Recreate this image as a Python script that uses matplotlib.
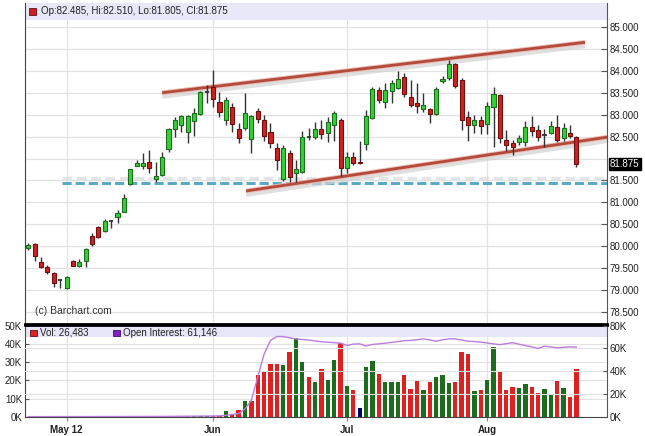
import matplotlib
matplotlib.use('Agg')
import matplotlib.pyplot as plt
import matplotlib.transforms as mtransforms
from matplotlib.patches import Rectangle
import numpy as np
import pandas as pd

plt.rcParams['font.family'] = ['Liberation Sans', 'DejaVu Sans']

# ---------------- data ----------------
start_date = '2012-04-23'
opens = [79.95, 80.05, 79.63, 79.52, 79.40, 79.24, 79.04, 79.67, 79.55, 79.66,
         80.24, 80.44, 80.35, 80.58, 80.66, 80.79, 81.42, 81.83, 81.83, 81.93,
         81.53, 81.62, 82.21, 82.67, 82.76, 82.61, 82.86, 83.02, 83.52, 83.62,
         83.30, 82.89, 83.18, 82.67, 82.69, 82.44, 83.09, 82.89, 82.61, 82.23,
         81.53, 82.12, 81.66, 81.70, 82.48, 82.50, 82.67, 82.59, 82.76, 82.89,
         81.78, 82.04, 81.91, 82.33, 82.92, 83.56, 83.30, 83.55, 83.60, 83.85,
         83.41, 83.27, 83.12, 83.12, 83.02, 83.76, 83.83, 84.16, 83.78, 82.94,
         82.76, 82.88, 82.79, 83.18, 83.45, 82.42, 82.35, 82.38, 82.38, 82.71,
         82.65, 82.54, 82.59, 82.71, 82.46, 82.59, 82.485]
highs = [80.08, 80.07, 79.75, 79.58, 79.42, 79.25, 79.32, 79.68, 79.70, 79.95,
         80.30, 80.47, 80.62, 80.59, 80.82, 81.20, 81.77, 81.97, 82.12, 82.20,
         81.93, 82.16, 82.70, 82.95, 83.00, 83.00, 83.15, 83.55, 83.68, 84.02,
         83.52, 83.41, 83.27, 82.81, 83.49, 83.00, 83.15, 83.00, 82.80, 82.35,
         82.30, 82.19, 81.97, 82.63, 82.69, 82.84, 82.89, 82.95, 83.08, 82.92,
         82.16, 82.16, 82.41, 83.10, 83.62, 83.62, 83.72, 83.79, 84.00, 83.94,
         83.78, 83.72, 83.49, 83.15, 83.63, 83.88, 84.25, 84.18, 83.83, 83.09,
         83.00, 82.97, 83.28, 83.64, 83.47, 82.65, 82.42, 82.54, 82.86, 82.97,
         82.77, 82.67, 82.86, 82.99, 82.80, 82.76, 82.510]
lows = [79.92, 79.67, 79.50, 79.36, 79.06, 79.05, 79.03, 79.55, 79.53, 79.53,
        80.00, 80.18, 80.33, 80.41, 80.52, 80.78, 81.40, 81.82, 81.76, 81.66,
        81.47, 81.60, 82.16, 82.50, 82.60, 82.36, 82.51, 83.00, 83.26, 83.18,
        82.95, 82.76, 82.61, 82.36, 82.65, 82.12, 82.80, 82.39, 82.23, 81.74,
        81.48, 81.47, 81.47, 81.68, 82.42, 82.44, 82.44, 82.38, 82.41, 81.60,
        81.66, 81.86, 81.88, 82.19, 82.90, 83.27, 83.15, 83.26, 83.58, 83.40,
        83.17, 83.03, 83.07, 82.82, 83.00, 83.72, 83.80, 83.60, 82.65, 82.41,
        82.58, 82.56, 82.56, 82.26, 82.36, 82.18, 82.08, 82.31, 82.29, 82.51,
        82.40, 82.26, 82.56, 82.38, 82.40, 82.46, 81.805]
closes = [80.02, 79.78, 79.53, 79.41, 79.15, 79.24, 79.30, 79.56, 79.63, 79.93,
          80.06, 80.20, 80.58, 80.58, 80.76, 81.09, 81.75, 81.89, 81.89, 81.78,
          81.60, 82.04, 82.67, 82.89, 82.98, 82.97, 83.03, 83.51, 83.52, 83.35,
          83.07, 83.33, 82.79, 82.46, 83.03, 82.98, 82.91, 82.51, 82.35, 81.97,
          82.23, 81.59, 81.75, 82.50, 82.48, 82.67, 82.56, 82.84, 83.03, 81.78,
          82.03, 81.89, 81.89, 82.97, 83.58, 83.33, 83.56, 83.73, 83.81, 83.47,
          83.22, 83.19, 83.21, 83.02, 83.58, 83.81, 84.16, 83.65, 82.87, 82.76,
          82.88, 82.74, 83.20, 83.47, 82.46, 82.31, 82.27, 82.46, 82.73, 82.63,
          82.50, 82.54, 82.74, 82.42, 82.69, 82.51, 81.875]
volume = [50, 40, 60, 50, 70, 40, 60, 80, 60, 90,
          70, 80, 100, 60, 90, 120, 110, 130, 100, 150,
          140, 160, 180, 450, 500, 600, 520, 700, 650, 800,
          700, 3500, 1800, 3600, 8900, 8500, 23000, 25300, 29000, 29000,
          28200, 35500, 43000, 30000, 22000, 19000, 26000, 20000, 31000, 40400,
          16900, 14900, 4900, 27300, 30400, 23600, 18900, 18900, 18900, 23000,
          15500, 19500, 14500, 18900, 21800, 23000, 18500, 19000, 35500, 34500,
          14000, 14500, 20000, 38200, 24500, 15000, 16500, 16000, 18000, 16500,
          13000, 15500, 12000, 19500, 15800, 11000, 26483]
open_interest = [300, 300, 320, 320, 330, 340, 340, 350, 360, 360,
                 380, 380, 400, 400, 420, 430, 450, 460, 480, 500,
                 520, 540, 560, 600, 650, 700, 750, 800, 850, 900,
                 1000, 1500, 2200, 3000, 7000, 14600, 35000, 55000, 67000, 70400,
                 70400, 69300, 68400, 67800, 67300, 66600, 65800, 65500, 65000, 64600,
                 62600, 63800, 64000, 62200, 63500, 64000, 64600, 65300, 66000, 66800,
                 67000, 67600, 68400, 67400, 66300, 67500, 68400, 68300, 67300, 66300,
                 66000, 65500, 64800, 64000, 63300, 64200, 65000, 63700, 62500, 61400,
                 59900, 62000, 61300, 60500, 61000, 61400, 61146]
month_labels = ['May 12', 'Jun', 'Jul', 'Aug']
price_ticks = [85.0, 84.5, 84.0, 83.5, 83.0, 82.5, 82.0, 81.5, 81.0, 80.5, 80.0, 79.5, 79.0, 78.5]
vol_ticks = [0, 10000, 20000, 30000, 40000, 50000]
oi_ticks = [0, 20000, 40000, 60000, 80000]
support_level = 81.44
upper_channel_x = [21.0, 87.36]
upper_channel_y = [83.50, 84.65]
lower_channel_x = [34.17, 90.97]
lower_channel_y = [81.26, 82.49]

# ---------------- layout ----------------
W, H = 645, 436
fig = plt.figure(figsize=(W / 100, H / 100), dpi=100)
fig.patch.set_facecolor('white')


def rect(l, t, r, b):
    return [l / W, 1 - b / H, (r - l) / W, (b - t) / H]


ax = fig.add_axes(rect(25, 3, 607, 324))
axv = fig.add_axes(rect(25, 325, 607, 417), sharex=ax)

n = len(closes)
x = np.arange(n)
dates = pd.bdate_range(start_date, periods=n)
month_start = [i for i in range(1, n) if dates[i].month != dates[i - 1].month]

o = np.array(opens); h = np.array(highs); l = np.array(lows); c = np.array(closes)

ax.set_xlim(-0.52, 90.81)
ax.set_ylim(78.226, 85.547)

grid_c = '#e2e2e2'
for p in price_ticks:
    ax.axhline(p, color=grid_c, lw=0.9, zorder=0)
for m in month_start:
    ax.axvline(m, color=grid_c, lw=0.9, zorder=0)
    axv.axvline(m, color=grid_c, lw=0.9, zorder=0)

# legend band
ax.add_patch(Rectangle((0, 1 - 17 / 321), 1, 17 / 321, transform=ax.transAxes,
                       facecolor='#e8e8f8', edgecolor='none', zorder=1))

# support / channel lines
ax.plot([5.24, 90.81], [support_level + 0.12] * 2, color='#d4d4d4', lw=2.3,
        dashes=(3, 1.5), zorder=1.5, alpha=0.6)
ax.plot([5.24, 90.81], [support_level] * 2, color='#5aaac4', lw=2.2,
        dashes=(3, 1.3), zorder=1.6, clip_on=False)
for cx, cy in [(upper_channel_x, upper_channel_y), (lower_channel_x, lower_channel_y)]:
    ax.plot(cx, [v - 0.08 for v in cy], color='#d2d2d2', lw=3.5, zorder=1.7,
            alpha=0.7, solid_capstyle='butt', clip_on=False)
    ax.plot(cx, cy, color='#ecbcb4', lw=3.4, zorder=1.8, solid_capstyle='butt', clip_on=False)
    ax.plot(cx, cy, color='#b34a3b', lw=2.0, zorder=1.9, solid_capstyle='butt', clip_on=False)

# candles
up = c > o + 0.004
dn = c < o - 0.004
dj = ~(up | dn)
ax.vlines(x, l, h, color='#333333', lw=1.0, zorder=3)
bw = 0.64
ax.bar(x[up], (c - o)[up], bottom=o[up], width=bw, color='#35d035',
       edgecolor='#1c6e1c', linewidth=0.8, zorder=4)
ax.bar(x[dn], (o - c)[dn], bottom=c[dn], width=bw, color='#d02020',
       edgecolor='#6e1010', linewidth=0.8, zorder=4)
ax.hlines(c[dj], x[dj] - bw / 2, x[dj] + bw / 2, color='#333333', lw=1.3, zorder=4)

# main axis styling
ax.yaxis.tick_right()
lab_ticks = [p for p in price_ticks if abs(p - c[-1]) > 0.2]
ax.set_yticks(lab_ticks)
ax.set_yticklabels([f'{p:.3f}' for p in lab_ticks])
ax.tick_params(axis='y', direction='in', length=4, width=0.8, color='#555555',
               labelsize=7, labelcolor='#222222', pad=2)
ax.tick_params(axis='x', which='both', length=0, labelbottom=False)
ax.spines['top'].set_visible(False)
ax.spines['left'].set_color('#444444')
ax.spines['right'].set_color('#555555')
ax.spines['bottom'].set_color('black')
ax.spines['bottom'].set_linewidth(2)

trans = mtransforms.blended_transform_factory(ax.transAxes, ax.transData)
ax.text(1 + 3 / 582, c[-1], f'{c[-1]:.3f}', transform=trans, ha='left', va='center',
        fontsize=7, color='white', zorder=10,
        bbox=dict(boxstyle='square,pad=0.12', facecolor='black', edgecolor='black'))

# legend text main
fig.patches.append(Rectangle((29 / W, 1 - 15 / H), 7 / W, 7 / H, transform=fig.transFigure,
                             facecolor='#cc2020', edgecolor='#661010', lw=0.6))
fig.text(41 / W, 1 - 11.5 / H,
         f'Op:{o[-1]:.3f}, Hi:{h[-1]:.3f}, Lo:{l[-1]:.3f}, Cl:{c[-1]:.3f}',
         fontsize=7, color='#222222', va='center', ha='left')
fig.text(35 / W, 1 - 311 / H, '(c) Barchart.com', fontsize=7.5, color='#333333',
         va='center', ha='left')

# ---------------- volume panel ----------------
axv.set_ylim(0, 50300)
prev = np.concatenate([[o[0]], c[:-1]])
vcol = np.where(c > prev + 1e-9, '#1d6b1d', np.where(c < prev - 1e-9, '#dd2020', '#000066'))
for yv in vol_ticks[1:-1]:
    axv.axhline(yv, color=grid_c, lw=0.8, zorder=0)
axv.bar(x, volume, width=0.68, color=vcol, linewidth=0, zorder=3)
axv.add_patch(Rectangle((0, 80 / 92), 1, 10 / 92, transform=axv.transAxes,
                        facecolor='#e6e6f8', edgecolor='none', zorder=2))
axv.set_yticks(vol_ticks)
axv.set_yticklabels([f'{int(v / 1000)}K' for v in vol_ticks])
axv.tick_params(axis='y', direction='in', length=3, width=0.8, color='#555555',
                labelsize=7, labelcolor='#222222', pad=2)
axv.set_xticks(month_start)
axv.set_xticklabels(month_labels, fontweight='bold', fontsize=7, color='#222222')
axv.tick_params(axis='x', length=3, direction='out', color='#888888', pad=3)
axv.spines['top'].set_linewidth(2)
axv.spines['top'].set_color('black')
axv.spines['left'].set_color('#444444')
axv.spines['bottom'].set_color('#444444')
axv.spines['right'].set_color('#555555')

axo = axv.twinx()
axo.set_ylim(0, 80500)
for yv in oi_ticks[1:-1]:
    axo.axhline(yv, color=grid_c, lw=0.8, zorder=0)
axo.plot(x, open_interest, color='#bb7ddc', lw=1.0, zorder=5)
axo.set_yticks(oi_ticks)
axo.set_yticklabels([f'{int(v / 1000)}K' for v in oi_ticks])
axo.tick_params(axis='y', direction='in', length=3, width=0.8, color='#555555',
                labelsize=7, labelcolor='#222222', pad=2)
for s in axo.spines.values():
    s.set_visible(False)

fig.patches.append(Rectangle((30 / W, 1 - 336 / H), 6.5 / W, 6.5 / H, transform=fig.transFigure,
                             facecolor='#dd2020', edgecolor='#661010', lw=0.6))
fig.text(40 / W, 1 - 332.5 / H, f'Vol: {volume[-1]:,}', fontsize=7, color='#222222',
         va='center', ha='left')
fig.patches.append(Rectangle((113 / W, 1 - 336 / H), 6.5 / W, 6.5 / H, transform=fig.transFigure,
                             facecolor='#8020c0', edgecolor='#40106a', lw=0.6))
fig.text(123 / W, 1 - 332.5 / H, f'Open Interest: {open_interest[-1]:,}', fontsize=7,
         color='#222222', va='center', ha='left')

fig.savefig('out.png', dpi=100)
